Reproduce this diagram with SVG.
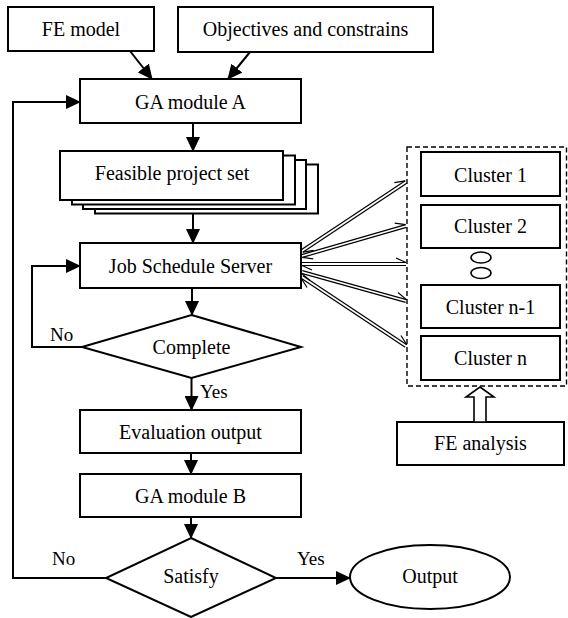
<svg xmlns="http://www.w3.org/2000/svg" width="568" height="618" viewBox="0 0 568 618">
<style>
.box{fill:#fff;stroke:#000;stroke-width:2}
.t{font-family:"Liberation Serif","Times New Roman",serif;font-size:20px;fill:#000;text-anchor:middle}
.lbl{font-family:"Liberation Serif","Times New Roman",serif;font-size:19px;fill:#000}
.ln{fill:none;stroke:#000;stroke-width:2}
.dl{fill:none;stroke:#000;stroke-width:1.2}
</style>
<defs>
<marker id="ah" markerUnits="userSpaceOnUse" viewBox="0 0 15 14" refX="14" refY="7" markerWidth="15" markerHeight="14" orient="auto">
<path d="M0,0 L15,7 L0,14 z" fill="#000"/>
</marker>
<marker id="barb" markerUnits="userSpaceOnUse" viewBox="-11 -6 13 8" refX="0" refY="0" markerWidth="13" markerHeight="8" orient="auto" overflow="visible">
<path d="M0,0 L-10,-4.5" fill="none" stroke="#000" stroke-width="1.2"/>
</marker>
</defs>
<g id="fe-model"><rect class="box" x="8" y="7" width="146" height="44"/><text class="t" x="81" y="36">FE model</text></g>
<g id="objectives"><rect class="box" x="178" y="7" width="255" height="45"/><text class="t" x="305.5" y="36">Objectives and constrains</text></g>
<g id="ga-a"><rect class="box" x="80" y="79" width="221" height="44"/><text class="t" x="190.5" y="109">GA module A</text></g>
<g id="feasible">
<rect class="box" x="95" y="164.5" width="223" height="49"/>
<rect class="box" x="83" y="160" width="223" height="49"/>
<rect class="box" x="72" y="155.5" width="223" height="49"/>
<rect class="box" x="60" y="151" width="223" height="49"/>
<text class="t" x="172" y="179.5">Feasible project set</text></g>
<g id="jss"><rect class="box" x="80" y="243" width="221" height="45"/><text class="t" x="190.5" y="273">Job Schedule Server</text></g>
<g id="complete"><polygon class="box" points="191.5,315 301,347 191.5,378 82,347"/><text class="t" x="191.5" y="354">Complete</text></g>
<g id="eval"><rect class="box" x="80" y="410" width="221" height="43"/><text class="t" x="190.5" y="439">Evaluation output</text></g>
<g id="ga-b"><rect class="box" x="80" y="474" width="221" height="43"/><text class="t" x="190.5" y="503">GA module B</text></g>
<g id="satisfy"><polygon class="box" points="191,538 276,578 191,617 106,578"/><text class="t" x="191" y="583">Satisfy</text></g>
<g id="output"><ellipse class="box" cx="430" cy="577" rx="80" ry="32"/><text class="t" x="430" y="583">Output</text></g>
<g id="cluster-group">
<rect x="407" y="147" width="159.5" height="239" fill="none" stroke="#000" stroke-width="1.4" stroke-dasharray="5,3"/>
</g>
<g id="cluster1"><rect class="box" x="421" y="152" width="139" height="44"/><text class="t" x="490.5" y="182">Cluster 1</text></g>
<g id="cluster2"><rect class="box" x="421" y="205" width="139" height="43"/><text class="t" x="490.5" y="233">Cluster 2</text></g>
<g id="ellipsis"><ellipse cx="481" cy="257.5" rx="10" ry="5.5" fill="#fff" stroke="#000" stroke-width="1.6"/><ellipse cx="481" cy="273" rx="10" ry="5.5" fill="#fff" stroke="#000" stroke-width="1.6"/></g>
<g id="cluster-n1"><rect class="box" x="421" y="285" width="139" height="43"/><text class="t" x="490.5" y="314">Cluster n-1</text></g>
<g id="cluster-n"><rect class="box" x="421" y="336" width="139" height="44"/><text class="t" x="490.5" y="365">Cluster n</text></g>
<g id="fe-analysis"><rect class="box" x="397" y="422" width="167" height="43"/><text class="t" x="480.5" y="450">FE analysis</text></g>
<g id="connectors">
<line class="ln" x1="130" y1="51" x2="152" y2="79" marker-end="url(#ah)"/>
<line class="ln" x1="250" y1="52" x2="228" y2="79" marker-end="url(#ah)"/>
<line class="ln" x1="193" y1="123" x2="193" y2="151" marker-end="url(#ah)"/>
<line class="ln" x1="193" y1="214" x2="193" y2="243" marker-end="url(#ah)"/>
<line class="ln" x1="192" y1="288" x2="192" y2="315" marker-end="url(#ah)"/>
<polyline class="ln" points="82,347 32,347 32,266 80,266" marker-end="url(#ah)"/>
<line class="ln" x1="191.5" y1="378" x2="191.5" y2="410" marker-end="url(#ah)"/>
<line class="ln" x1="191" y1="453" x2="191" y2="474" marker-end="url(#ah)"/>
<line class="ln" x1="191" y1="517" x2="191" y2="538" marker-end="url(#ah)"/>
<polyline class="ln" points="106,578 13,578 13,102 80,102" marker-end="url(#ah)"/>
<line class="ln" x1="276" y1="578" x2="350" y2="578" marker-end="url(#ah)"/>
<line class="dl" x1="301.2" y1="249.8" x2="405.2" y2="180.8" marker-end="url(#barb)"/>
<line class="dl" x1="406.8" y1="183.2" x2="302.8" y2="252.2" marker-end="url(#barb)"/>
<line class="dl" x1="301.6" y1="254.6" x2="405.6" y2="224.6" marker-end="url(#barb)"/>
<line class="dl" x1="406.4" y1="227.4" x2="302.4" y2="257.4" marker-end="url(#barb)"/>
<line class="dl" x1="302" y1="262.5" x2="406" y2="262.5" marker-end="url(#barb)"/>
<line class="dl" x1="406" y1="265.5" x2="302" y2="265.5" marker-end="url(#barb)"/>
<line class="dl" x1="302.4" y1="270.6" x2="406.4" y2="299.6" marker-end="url(#barb)"/>
<line class="dl" x1="405.6" y1="302.4" x2="301.6" y2="273.4" marker-end="url(#barb)"/>
<line class="dl" x1="302.8" y1="275.8" x2="406.8" y2="344.8" marker-end="url(#barb)"/>
<line class="dl" x1="405.2" y1="347.2" x2="301.2" y2="278.2" marker-end="url(#barb)"/>
<polygon points="480,387 494,397 486,397 486,422 474,422 474,397 466,397" fill="#fff" stroke="#000" stroke-width="1.6"/>
</g>
<g id="labels">
<text class="lbl" x="50" y="341">No</text>
<text class="lbl" x="200" y="398">Yes</text>
<text class="lbl" x="52" y="565">No</text>
<text class="lbl" x="297" y="565">Yes</text>
</g>
</svg>
